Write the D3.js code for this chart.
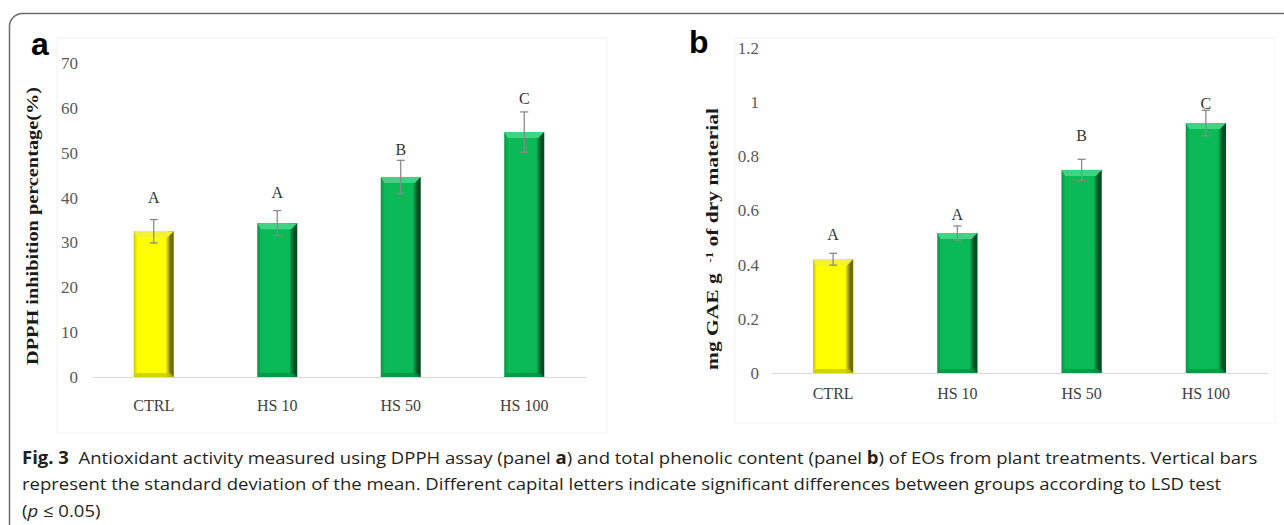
<!DOCTYPE html>
<html>
<head>
<meta charset="utf-8">
<script src="https://cdn.jsdelivr.net/npm/d3@7"></script>
<style>
  body { margin: 0; background: #fff; }
</style>
</head>
<body>
<svg id="fig" width="1284" height="525"></svg>
<script>
const w = 1284, h = 525

// data
const categories = ['CTRL', 'HS 10', 'HS 50', 'HS 100']
const dpphMean = [32.5, 34.3, 44.6, 54.6]
const dpphSd = [2.6, 2.8, 3.7, 4.5]
const dpphLetters = ['A', 'A', 'B', 'C']
const dpphLetterAt = [40.1, 41.2, 50.7, 62.0]
const dpphTicks = [0, 10, 20, 30, 40, 50, 60, 70]

const phenolMean = [0.42, 0.517, 0.75, 0.923]
const phenolSd = [0.022, 0.026, 0.039, 0.047]
const phenolLetters = ['A', 'A', 'B', 'C']
const phenolLetterAt = [0.513, 0.587, 0.879, 0.997]
const phenolTicks = [0, 0.2, 0.4, 0.6, 0.8, 1, 1.2]

const barColors = ['yellow', 'green', 'green', 'green']

const serif = 'Liberation Serif, Times New Roman, serif'
const sans = 'Liberation Sans, Arial, sans-serif'

const svg = d3.select('#fig')

// outer frame, only the top and left sides show
svg.append('rect')
    .attr('x', 9.5).attr('y', 13.5)
    .attr('width', 1400).attr('height', 540)
    .attr('rx', 13)
    .attr('fill', 'none')
    .attr('stroke', '#6b6b6b')
    .attr('stroke-width', 1.5)

// gradients for the bevelled bars
const defs = svg.append('defs')
const shades = {
    yellow: { edge: '#c9c900', base: '#ffff00', dark: '#6f6f00', top: '#f2f23a' },
    green: { edge: '#079344', base: '#0cb957', dark: '#034d22', top: '#3fd483' }
}
Object.keys(shades).forEach(k => {
    const s = shades[k]
    const g = defs.append('linearGradient').attr('id', 'side-' + k)
        .attr('x1', 0).attr('x2', 1).attr('y1', 0).attr('y2', 0)
    g.append('stop').attr('offset', '0%').attr('stop-color', s.edge)
    g.append('stop').attr('offset', '10%').attr('stop-color', s.base)
    g.append('stop').attr('offset', '80%').attr('stop-color', s.base)
    g.append('stop').attr('offset', '92%').attr('stop-color', s.dark)
    g.append('stop').attr('offset', '100%').attr('stop-color', s.dark)
})

function panel(opt) {
    const x = d3.scaleBand()
        .domain(categories)
        .range(opt.xRange)
        .paddingInner(0.676)
        .paddingOuter(0.338)
    const y = d3.scaleLinear()
        .domain(opt.yDomain)
        .range(opt.yRange)

    const g = svg.append('g')

    // faint frame of the pasted chart image
    g.append('rect')
        .attr('x', opt.frame[0]).attr('y', opt.frame[1])
        .attr('width', opt.frame[2]).attr('height', opt.frame[3])
        .attr('fill', 'none').attr('stroke', '#f4f4f4')

    const yAxis = d3.axisLeft(y)
        .tickValues(opt.ticks)
        .tickSize(0)
        .tickPadding(opt.yPad)
        .tickFormat(d => d)
    g.append('g')
        .attr('transform', 'translate(' + opt.xRange[0] + ',0)')
        .call(yAxis)
        .call(a => a.select('.domain').remove())
        .selectAll('text')
        .attr('font-size', 17)
        .attr('font-family', serif)
        .attr('fill', '#595959')

    const xAxis = d3.axisBottom(x).tickSize(0).tickPadding(opt.xPad).tickSizeOuter(0)
    const xg = g.append('g')
        .attr('transform', 'translate(0,' + y(0) + ')')
        .call(xAxis)
    xg.select('.domain').attr('stroke', '#d9d9d9').attr('stroke-width', 1.2)
    xg.selectAll('text')
        .attr('font-size', 16)
        .attr('font-family', serif)
        .attr('fill', '#404040')

    const bars = g.selectAll('.bar')
        .data(categories.map((c, i) => ({ c, v: opt.mean[i], sd: opt.sd[i], l: opt.letters[i], la: opt.letterAt[i], col: barColors[i] })))
        .enter()
        .append('g')
        .attr('class', 'bar')

    bars.append('rect')
        .attr('x', d => x(d.c))
        .attr('y', d => y(d.v))
        .attr('width', x.bandwidth())
        .attr('height', d => y(0) - y(d.v))
        .attr('fill', d => 'url(#side-' + d.col + ')')

    // top bevel
    const bev = 6
    bars.append('path')
        .attr('d', d => {
            const x0 = x(d.c), x1 = x0 + x.bandwidth(), y0 = y(d.v)
            return 'M' + x0 + ',' + y0 + 'L' + x1 + ',' + y0 + 'L' + (x1 - bev) + ',' + (y0 + bev) + 'L' + (x0 + bev * 0.6) + ',' + (y0 + bev) + 'Z'
        })
        .attr('fill', d => shades[d.col].top)
    // bottom shade
    bars.append('path')
        .attr('d', d => {
            const x0 = x(d.c), x1 = x0 + x.bandwidth(), y0 = y(0)
            return 'M' + x0 + ',' + y0 + 'L' + x1 + ',' + y0 + 'L' + (x1 - 4) + ',' + (y0 - 4) + 'L' + (x0 + 3) + ',' + (y0 - 4) + 'Z'
        })
        .attr('fill', d => shades[d.col].edge)
        .attr('opacity', 0.8)

    // error bars
    const cap = 4
    const err = bars.append('g')
        .attr('stroke', '#8a8a8a')
        .attr('stroke-width', 1.3)
        .attr('fill', 'none')
    err.append('line')
        .attr('x1', d => x(d.c) + x.bandwidth() / 2)
        .attr('x2', d => x(d.c) + x.bandwidth() / 2)
        .attr('y1', d => y(d.v + d.sd))
        .attr('y2', d => y(d.v - d.sd))
    err.append('line')
        .attr('x1', d => x(d.c) + x.bandwidth() / 2 - cap)
        .attr('x2', d => x(d.c) + x.bandwidth() / 2 + cap)
        .attr('y1', d => y(d.v + d.sd))
        .attr('y2', d => y(d.v + d.sd))
    err.append('line')
        .attr('x1', d => x(d.c) + x.bandwidth() / 2 - cap)
        .attr('x2', d => x(d.c) + x.bandwidth() / 2 + cap)
        .attr('y1', d => y(d.v - d.sd))
        .attr('y2', d => y(d.v - d.sd))

    bars.append('text')
        .text(d => d.l)
        .attr('x', d => x(d.c) + x.bandwidth() / 2)
        .attr('y', d => y(d.la))
        .attr('dy', '0.35em')
        .attr('text-anchor', 'middle')
        .attr('font-family', serif)
        .attr('font-size', 16)
        .attr('fill', '#333')

    // y axis title
    const t = g.append('text')
        .attr('transform', 'translate(' + opt.title[0] + ',' + opt.title[1] + ') rotate(-90)')
        .attr('text-anchor', 'middle')
        .attr('font-family', serif)
        .attr('font-weight', 'bold')
        .attr('font-size', 17)
        .attr('fill', '#1a1a1a')
        .attr('textLength', opt.title[2])
        .attr('lengthAdjust', 'spacingAndGlyphs')
    opt.titleParts.forEach(p => {
        const ts = t.append('tspan').text(p.s)
        if (p.sup) ts.attr('font-size', 10).attr('baseline-shift', '55%')
    })

    // panel letter
    svg.append('text')
        .text(opt.tag)
        .attr('x', opt.tagPos[0]).attr('y', opt.tagPos[1])
        .attr('font-family', sans)
        .attr('font-weight', 'bold')
        .attr('font-size', 32)
        .attr('fill', '#000')
}

panel({
    xRange: [92, 586], yDomain: [0, 70], yRange: [377, 63],
    ticks: dpphTicks, mean: dpphMean, sd: dpphSd, letters: dpphLetters, letterAt: dpphLetterAt,
    yPad: 14, xPad: 23,
    frame: [57, 38, 550, 395],
    title: [38, 226, 278],
    titleParts: [{ s: 'DPPH inhibition percentage(%)' }],
    tag: 'a', tagPos: [31, 55]
})

panel({
    xRange: [771, 1268], yDomain: [0, 1.2], yRange: [373, 48],
    ticks: phenolTicks, mean: phenolMean, sd: phenolSd, letters: phenolLetters, letterAt: phenolLetterAt,
    yPad: 12, xPad: 15,
    frame: [735, 38, 540, 385],
    title: [718, 239, 262],
    titleParts: [{ s: 'mg GAE g\u00a0\u00a0' }, { s: '-1', sup: true }, { s: '\u00a0of dry material' }],
    tag: 'b', tagPos: [689, 53]
})

// caption
const caption = svg.append('g')
    .attr('font-family', 'Open Sans, sans-serif')
    .attr('font-size', 17)
    .attr('fill', '#231f20')
const lines = [
    [{ s: 'Fig. 3', b: true }, { s: '\u00a0 Antioxidant activity measured using DPPH assay (panel ' }, { s: 'a', b: true },
     { s: ') and total phenolic content (panel ' }, { s: 'b', b: true }, { s: ') of EOs from plant treatments. Vertical bars' }],
    [{ s: 'represent the standard deviation of the mean. Different capital letters indicate significant differences between groups according to LSD test' }],
    [{ s: '(' }, { s: 'p', i: true }, { s: '\u00a0\u2264\u00a00.05)' }]
]
const capText = []
lines.forEach((ln, i) => {
    const t = caption.append('text')
        .attr('font-family', 'Open Sans, sans-serif')
        .attr('x', 0).attr('y', i * 26.5)
    ln.forEach(p => {
        const ts = t.append('tspan').text(p.s)
        if (p.b) ts.attr('font-weight', 'bold')
        if (p.i) ts.attr('font-style', 'italic')
    })
    capText.push(t)
})
const natural = capText[0].node().getComputedTextLength()
const sx = 1236 / natural
caption.attr('transform', 'translate(22,464) scale(' + sx + ',1)')
</script>
</body>
</html>
